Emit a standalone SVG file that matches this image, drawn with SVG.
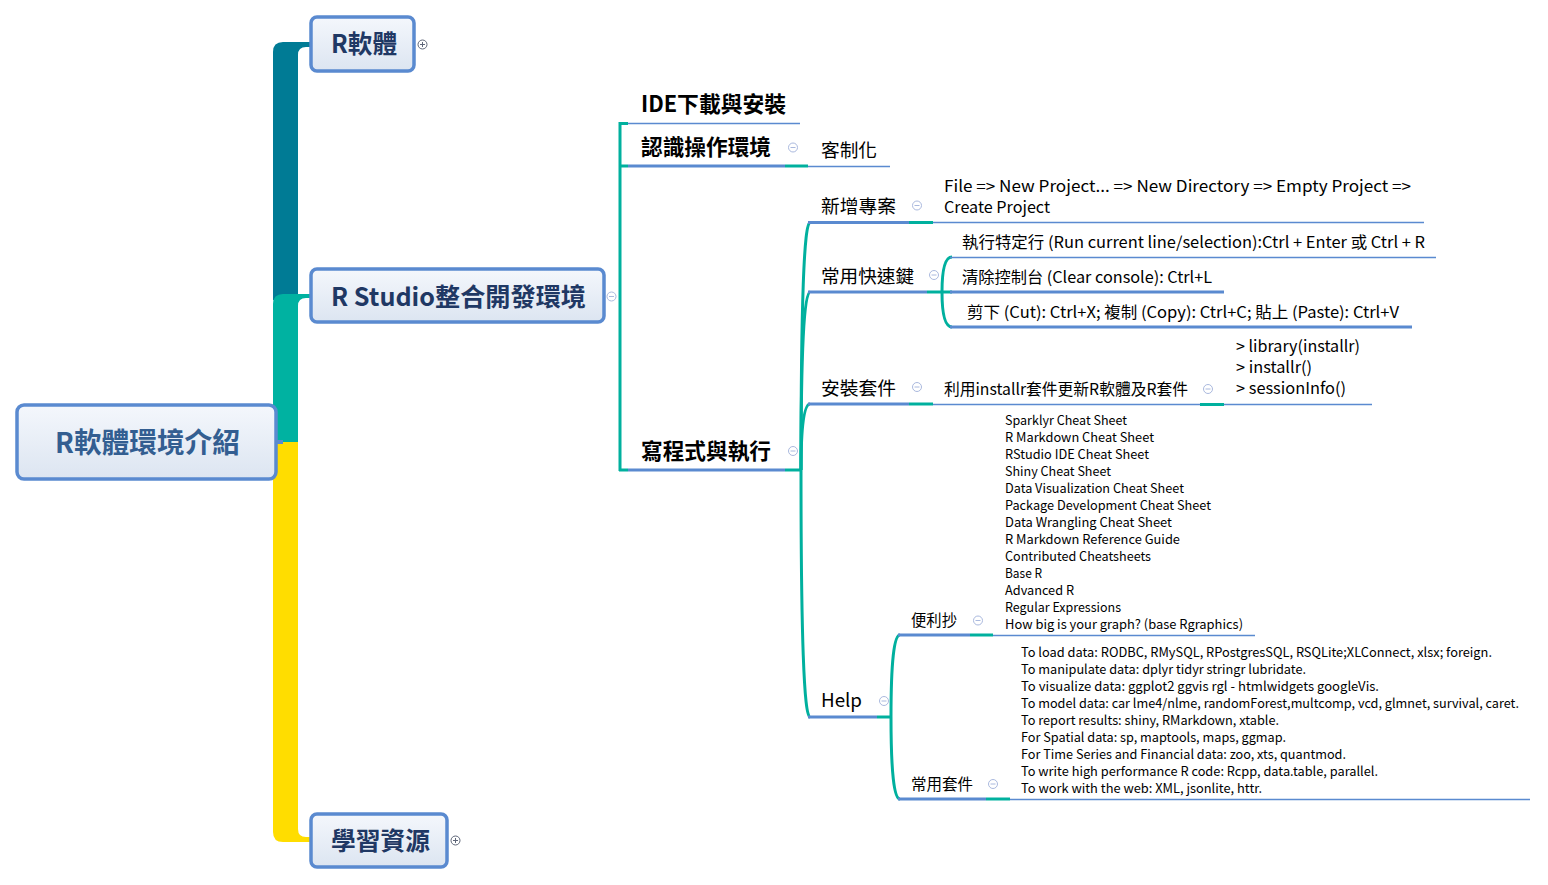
<svg xmlns="http://www.w3.org/2000/svg" width="1548" height="885" viewBox="0 0 1548 885">
<defs>
<linearGradient id="nodeFill" x1="0" y1="0" x2="0" y2="1">
<stop offset="0" stop-color="#F4F7FC"/>
<stop offset="1" stop-color="#DCE5F1"/>
</linearGradient>
<style>
.box{fill:url(#nodeFill);stroke:#5A8AD0;stroke-width:3.5}
.main{font-family:"Noto Sans CJK TC","Noto Sans CJK SC",sans-serif;font-weight:bold;fill:#1F3864;text-anchor:middle}
.root{font-family:"Noto Sans CJK TC","Noto Sans CJK SC",sans-serif;font-weight:bold;fill:#335E91;text-anchor:middle;font-size:28px}
.sec{font-family:"Noto Sans CJK TC","Noto Sans CJK SC",sans-serif;font-weight:bold;fill:#000;font-size:22px}
.t19{font-family:"Noto Sans CJK TC","Noto Sans CJK SC",sans-serif;fill:#000;font-size:18.7px}
.t16{font-family:"Noto Sans CJK TC","Noto Sans CJK SC",sans-serif;fill:#000;font-size:16px}
.t15{font-family:"Noto Sans CJK TC","Noto Sans CJK SC",sans-serif;fill:#000;font-size:15.5px}
.t13{font-family:"Noto Sans CJK TC","Noto Sans CJK SC",sans-serif;fill:#000;font-size:13px}
.ul{stroke:#5A8AD0;stroke-width:1.3;fill:none}
.ulb{stroke:#5A8AD0;stroke-width:3;fill:none}
.tl{stroke:#00B09E;stroke-width:3;fill:none}
.tg{fill:#fff;stroke:#AAB9DE;stroke-width:1}
.tgm{stroke:#AAB9DE;stroke-width:1}
.tgd{fill:#fff;stroke:#5E6678;stroke-width:1}
.tgdm{stroke:#5E6678;stroke-width:1}
</style>
</defs>
<rect width="1548" height="885" fill="#fff"/>

<g id="connectors">
<path d="M273,300 L273,52 Q273,42 283,42 L312,42 L312,47 L306,47 Q298,47 298,55 L298,300 Z" fill="#007B95"/>
<path d="M273,442 L273,304 Q273,294 283,294 L312,294 L312,298 L306,298 Q298,298 298,306 L298,442 Z" fill="#00B2A1"/>
<path d="M273,442 L273,832 Q273,842 283,842 L312,842 L312,837 L306,837 Q298,837 298,829 L298,442 Z" fill="#FFDD00"/>
<rect x="276" y="440" width="7" height="4" fill="#5A8AD0"/>
<path class="tl" d="M620,122 V471"/>
<path class="tl" d="M619,123.5 H628 M619,166 H628 M619,470 H628"/>
<path class="tl" d="M785,166 H808"/>
<path class="tl" d="M785,470 H801"/>
<path class="tl" d="M801,470 Q801,222.5 810,222.5"/>
<path class="tl" d="M801,470 Q801,292 810,292"/>
<path class="tl" d="M801,470 Q801,404 810,404"/>
<path class="tl" d="M801,470 Q801,717 810,717"/>
<path class="tl" d="M909,222.5 H933"/>
<path class="tl" d="M927,292 H952"/>
<path class="tl" d="M942,292 Q942,257 952,257"/>
<path class="tl" d="M942,292 Q942,327 952,327"/>
<path class="tl" d="M909,404 H933"/>
<path class="tl" d="M1200,404.5 H1224"/>
<path class="tl" d="M877,717 H891"/>
<path class="tl" d="M891,717 Q891,635 900,635"/>
<path class="tl" d="M891,717 Q891,799 900,799"/>
<path class="tl" d="M970,635 H993"/>
<path class="tl" d="M986,799 H1010"/>
</g>

<g id="node-root">
<rect class="box" x="17" y="405" width="259" height="74" rx="7"/>
<text class="root" x="147.5" y="453" textLength="185" lengthAdjust="spacingAndGlyphs">R軟體環境介紹</text>
</g>

<g id="node-r-software">
<rect class="box" x="311" y="17" width="103" height="54" rx="6"/>
<text class="main" x="364" y="53" font-size="25" textLength="66" lengthAdjust="spacingAndGlyphs">R軟體</text>
<circle class="tgd" cx="422.5" cy="44.5" r="4.5"/>
<path class="tgdm" d="M420,44.5 H425 M422.5,42 V47"/>
</g>

<g id="node-rstudio">
<rect class="box" x="311" y="269" width="293" height="53" rx="6"/>
<text class="main" x="458.5" y="306" font-size="25" textLength="255" lengthAdjust="spacingAndGlyphs">R Studio整合開發環境</text>
<circle class="tg" cx="611.5" cy="296.5" r="4.5"/>
<path class="tgm" d="M609,296.5 H614"/>
</g>

<g id="node-learning">
<rect class="box" x="311" y="814" width="136" height="53" rx="6"/>
<text class="main" x="380.5" y="850" font-size="25" textLength="99" lengthAdjust="spacingAndGlyphs">學習資源</text>
<circle class="tgd" cx="455.5" cy="840.5" r="4.5"/>
<path class="tgdm" d="M453,840.5 H458 M455.5,838 V843"/>
</g>

<g id="node-ide">
<text class="sec" x="641" y="112" textLength="145" lengthAdjust="spacingAndGlyphs">IDE下載與安裝</text>
<path class="ul" d="M628,123.5 H800"/>
</g>

<g id="node-env">
<text class="sec" x="641" y="155" textLength="130" lengthAdjust="spacingAndGlyphs">認識操作環境</text>
<path class="ulb" d="M628,166 H785"/>
<circle class="tg" cx="793" cy="147.5" r="4.5"/>
<path class="tgm" d="M790.5,147.5 H795.5"/>
</g>

<g id="node-custom">
<text class="t19" x="821" y="157" textLength="56" lengthAdjust="spacingAndGlyphs">客制化</text>
<path class="ul" d="M808,166.5 H890"/>
</g>

<g id="node-code">
<text class="sec" x="641" y="459" textLength="130" lengthAdjust="spacingAndGlyphs">寫程式與執行</text>
<path class="ulb" d="M628,470 H785"/>
<circle class="tg" cx="793" cy="451" r="4.5"/>
<path class="tgm" d="M790.5,451 H795.5"/>
</g>

<g id="node-newproj">
<text class="t19" x="821" y="213" textLength="75" lengthAdjust="spacingAndGlyphs">新增專案</text>
<path class="ulb" d="M808,222.5 H909"/>
<circle class="tg" cx="917" cy="205.5" r="4.5"/>
<path class="tgm" d="M914.5,205.5 H919.5"/>
</g>

<g id="node-newproj-steps">
<text class="t16" x="944" y="192" textLength="467" lengthAdjust="spacingAndGlyphs">File =&gt; New Project... =&gt; New Directory =&gt; Empty Project =&gt;</text>
<text class="t16" x="944" y="213" textLength="106" lengthAdjust="spacingAndGlyphs">Create Project</text>
<path class="ul" d="M933,222.5 H1424"/>
</g>

<g id="node-hotkeys">
<text class="t19" x="821" y="283" textLength="93" lengthAdjust="spacingAndGlyphs">常用快速鍵</text>
<path class="ulb" d="M808,292 H927"/>
<circle class="tg" cx="934" cy="275" r="4.5"/>
<path class="tgm" d="M931.5,275 H936.5"/>
</g>

<g id="node-hk-run">
<text class="t16" x="962" y="248" textLength="463" lengthAdjust="spacingAndGlyphs">執行特定行 (Run current line/selection):Ctrl + Enter 或 Ctrl + R</text>
<path class="ul" d="M950,257.5 H1436"/>
</g>

<g id="node-hk-clear">
<text class="t16" x="962" y="283" textLength="250" lengthAdjust="spacingAndGlyphs">清除控制台 (Clear console): Ctrl+L</text>
<path class="ulb" d="M950,292 H1224" stroke-width="2.5"/>
</g>

<g id="node-hk-copy">
<text class="t16" x="967" y="318" textLength="432" lengthAdjust="spacingAndGlyphs">剪下 (Cut): Ctrl+X; 複制 (Copy): Ctrl+C; 貼上 (Paste): Ctrl+V</text>
<path class="ulb" d="M950,327 H1412" stroke-width="2.5"/>
</g>

<g id="node-install">
<text class="t19" x="821" y="395" textLength="75" lengthAdjust="spacingAndGlyphs">安裝套件</text>
<path class="ulb" d="M808,404 H909"/>
<circle class="tg" cx="917" cy="387" r="4.5"/>
<path class="tgm" d="M914.5,387 H919.5"/>
</g>

<g id="node-installr">
<text class="t16" x="944" y="395" textLength="244" lengthAdjust="spacingAndGlyphs">利用installr套件更新R軟體及R套件</text>
<path class="ul" d="M933,404.5 H1200"/>
<circle class="tg" cx="1208" cy="389" r="4.5"/>
<path class="tgm" d="M1205.5,389 H1210.5"/>
</g>

<g id="node-installr-cmds">
<text class="t16" x="1236" y="352" textLength="124" lengthAdjust="spacingAndGlyphs">&gt; library(installr)</text>
<text class="t16" x="1236" y="373" textLength="76" lengthAdjust="spacingAndGlyphs">&gt; installr()</text>
<text class="t16" x="1236" y="394" textLength="110" lengthAdjust="spacingAndGlyphs">&gt; sessionInfo()</text>
<path class="ul" d="M1224,404.5 H1372"/>
</g>

<g id="node-help">
<text class="t19" x="821" y="707" font-size="19.5" textLength="41" lengthAdjust="spacingAndGlyphs">Help</text>
<path class="ulb" d="M808,717 H877"/>
<circle class="tg" cx="884" cy="701" r="4.5"/>
<path class="tgm" d="M881.5,701 H886.5"/>
</g>

<g id="node-cheatsheets">
<text class="t15" x="911" y="626" textLength="46" lengthAdjust="spacingAndGlyphs">便利抄</text>
<path class="ulb" d="M898,635 H970" stroke-width="2.5"/>
<circle class="tg" cx="978" cy="620.5" r="4.5"/>
<path class="tgm" d="M975.5,620.5 H980.5"/>
</g>

<g id="node-cheatsheet-list">
<text class="t13" x="1005" y="425" textLength="122" lengthAdjust="spacingAndGlyphs">Sparklyr Cheat Sheet</text>
<text class="t13" x="1005" y="442" textLength="149" lengthAdjust="spacingAndGlyphs">R Markdown Cheat Sheet</text>
<text class="t13" x="1005" y="459" textLength="144" lengthAdjust="spacingAndGlyphs">RStudio IDE Cheat Sheet</text>
<text class="t13" x="1005" y="476" textLength="106" lengthAdjust="spacingAndGlyphs">Shiny Cheat Sheet</text>
<text class="t13" x="1005" y="493" textLength="179" lengthAdjust="spacingAndGlyphs">Data Visualization Cheat Sheet</text>
<text class="t13" x="1005" y="510" textLength="206" lengthAdjust="spacingAndGlyphs">Package Development Cheat Sheet</text>
<text class="t13" x="1005" y="527" textLength="167" lengthAdjust="spacingAndGlyphs">Data Wrangling Cheat Sheet</text>
<text class="t13" x="1005" y="544" textLength="175" lengthAdjust="spacingAndGlyphs">R Markdown Reference Guide</text>
<text class="t13" x="1005" y="561" textLength="146" lengthAdjust="spacingAndGlyphs">Contributed Cheatsheets</text>
<text class="t13" x="1005" y="578" textLength="37" lengthAdjust="spacingAndGlyphs">Base R</text>
<text class="t13" x="1005" y="595" textLength="69" lengthAdjust="spacingAndGlyphs">Advanced R</text>
<text class="t13" x="1005" y="612" textLength="116" lengthAdjust="spacingAndGlyphs">Regular Expressions</text>
<text class="t13" x="1005" y="629" textLength="238" lengthAdjust="spacingAndGlyphs">How big is your graph? (base Rgraphics)</text>
<path class="ul" d="M993,635.5 H1255"/>
</g>

<g id="node-packages">
<text class="t15" x="911" y="790" textLength="62" lengthAdjust="spacingAndGlyphs">常用套件</text>
<path class="ulb" d="M898,799 H986" stroke-width="2.5"/>
<circle class="tg" cx="993" cy="784" r="4.5"/>
<path class="tgm" d="M990.5,784 H995.5"/>
</g>

<g id="node-package-list">
<text class="t13" x="1021" y="657" textLength="471" lengthAdjust="spacingAndGlyphs">To load data: RODBC, RMySQL, RPostgresSQL, RSQLite;XLConnect, xlsx; foreign.</text>
<text class="t13" x="1021" y="674" textLength="285" lengthAdjust="spacingAndGlyphs">To manipulate data: dplyr tidyr stringr lubridate.</text>
<text class="t13" x="1021" y="691" textLength="358" lengthAdjust="spacingAndGlyphs">To visualize data: ggplot2 ggvis rgl - htmlwidgets googleVis.</text>
<text class="t13" x="1021" y="708" textLength="498" lengthAdjust="spacingAndGlyphs">To model data: car lme4/nlme, randomForest,multcomp, vcd, glmnet, survival, caret.</text>
<text class="t13" x="1021" y="725" textLength="258" lengthAdjust="spacingAndGlyphs">To report results: shiny, RMarkdown, xtable.</text>
<text class="t13" x="1021" y="742" textLength="265" lengthAdjust="spacingAndGlyphs">For Spatial data: sp, maptools, maps, ggmap.</text>
<text class="t13" x="1021" y="759" textLength="325" lengthAdjust="spacingAndGlyphs">For Time Series and Financial data: zoo, xts, quantmod.</text>
<text class="t13" x="1021" y="776" textLength="357" lengthAdjust="spacingAndGlyphs">To write high performance R code: Rcpp, data.table, parallel.</text>
<text class="t13" x="1021" y="793" textLength="241" lengthAdjust="spacingAndGlyphs">To work with the web: XML, jsonlite, httr.</text>
<path class="ul" d="M1010,799.5 H1530"/>
</g>
</svg>
